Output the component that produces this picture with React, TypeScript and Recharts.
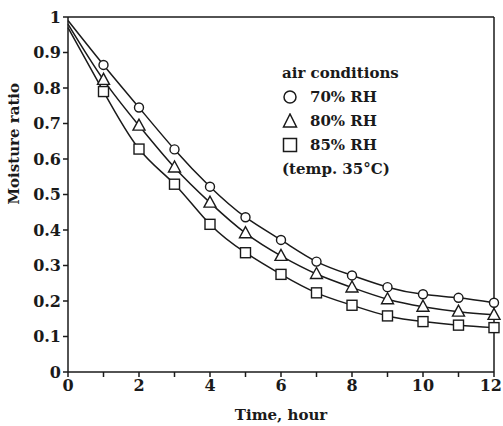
import { LineChart, Line, XAxis, YAxis, ReferenceLine } from 'recharts'

const hours = [0, 1, 2, 3, 4, 5, 6, 7, 8, 9, 10, 11, 12]
const rh70 = [0.99, 0.865, 0.745, 0.627, 0.522, 0.436, 0.372, 0.311, 0.272, 0.239, 0.219, 0.209, 0.195]
const rh80 = [0.98, 0.823, 0.694, 0.576, 0.477, 0.391, 0.327, 0.276, 0.238, 0.205, 0.184, 0.17, 0.161]
const rh85 = [0.97, 0.79, 0.628, 0.529, 0.416, 0.336, 0.275, 0.223, 0.188, 0.158, 0.142, 0.132, 0.125]
const yTicks = [0, 0.1, 0.2, 0.3, 0.4, 0.5, 0.6, 0.7, 0.8, 0.9, 1]
const legendItems = ['70% RH', '80% RH', '85% RH']

const data = hours.map((t, i) => ({ t, rh70: rh70[i], rh80: rh80[i], rh85: rh85[i] }))

const FONT = '"DejaVu Serif", serif'
const INK = '#1a1a1a'

const CircleDot = (props: any) => {
  const { cx, cy, payload, index } = props
  if (payload.t === 0) return <g key={'c' + index} />
  return <circle key={'c' + index} cx={cx} cy={cy} r={4.5} fill="#fff" stroke={INK} strokeWidth={1.4} />
}

const TriDot = (props: any) => {
  const { cx, cy, payload, index } = props
  if (payload.t === 0) return <g key={'t' + index} />
  return (
    <polygon
      key={'t' + index}
      points={`${cx},${cy - 6.5} ${cx - 6},${cy + 4.5} ${cx + 6},${cy + 4.5}`}
      fill="#fff"
      stroke={INK}
      strokeWidth={1.4}
    />
  )
}

const SquareDot = (props: any) => {
  const { cx, cy, payload, index } = props
  if (payload.t === 0) return <g key={'s' + index} />
  return <rect key={'s' + index} x={cx - 5} y={cy - 5} width={10} height={10} fill="#fff" stroke={INK} strokeWidth={1.4} />
}

// labels only on even hours, tick marks on every hour
const XTick = (props: any) => {
  const { x, y, payload } = props
  const v = payload.value
  if (v % 2 !== 0) return <g />
  const last = v === 12
  return (
    <text
      x={last ? 502 : x}
      y={y + 12}
      textAnchor={last ? 'end' : 'middle'}
      fontFamily={FONT}
      fontWeight="bold"
      fontSize={16}
      fill={INK}
    >
      {v}
    </text>
  )
}

const legendSymbols = [
  <circle cx={8} cy={8} r={6} fill="none" stroke={INK} strokeWidth={1.5} />,
  <polygon points="8,1 1.5,14 14.5,14" fill="none" stroke={INK} strokeWidth={1.5} />,
  <rect x={1.5} y={1.5} width={13} height={13} fill="none" stroke={INK} strokeWidth={1.5} />,
]

export default function App() {
  return (
    <div style={{ position: 'absolute', left: 0, top: 0, width: 503, height: 426, background: '#fff' }}>
      <LineChart width={503} height={426} data={data} margin={{ top: 17, right: 9, bottom: 0, left: 0 }}>
        <XAxis
          dataKey="t"
          type="number"
          domain={[0, 12]}
          ticks={hours}
          interval={0}
          stroke={INK}
          strokeWidth={1.5}
          tickSize={5}
          tick={<XTick />}
          height={54}
          label={{ value: 'Time, hour', position: 'insideBottom', offset: 6, fill: INK, fontFamily: FONT, fontWeight: 'bold', fontSize: 15 }}
        />
        <YAxis
          type="number"
          domain={[0, 1]}
          ticks={yTicks}
          interval={0}
          width={68}
          stroke={INK}
          strokeWidth={1.5}
          tickSize={5}
          tickFormatter={(v: number) => String(v)}
          tick={{ fill: INK, fontFamily: FONT, fontWeight: 'bold', fontSize: 16 }}
          label={{ value: 'Moisture ratio', angle: -90, position: 'insideLeft', offset: 14, dy: 10, fill: INK, fontFamily: FONT, fontWeight: 'bold', fontSize: 15 }}
        />
        <ReferenceLine y={1} stroke={INK} strokeWidth={1.5} />
        <ReferenceLine x={12} stroke={INK} strokeWidth={1.5} />
        <Line type="natural" dataKey="rh70" stroke={INK} strokeWidth={1.5} dot={CircleDot} isAnimationActive={false} />
        <Line type="natural" dataKey="rh80" stroke={INK} strokeWidth={1.5} dot={TriDot} isAnimationActive={false} />
        <Line type="natural" dataKey="rh85" stroke={INK} strokeWidth={1.5} dot={SquareDot} isAnimationActive={false} />
      </LineChart>
      <div style={{ position: 'absolute', left: 282, top: 61, fontFamily: FONT, fontWeight: 'bold', fontSize: 15, color: INK, lineHeight: '24px' }}>
        <div>air conditions</div>
        {legendItems.map((name, i) => (
          <div key={name} style={{ display: 'flex', alignItems: 'center' }}>
            <svg width={16} height={16} style={{ marginRight: 12 }}>
              {legendSymbols[i]}
            </svg>
            <span>{name}</span>
          </div>
        ))}
        <div>(temp. 35°C)</div>
      </div>
    </div>
  )
}
